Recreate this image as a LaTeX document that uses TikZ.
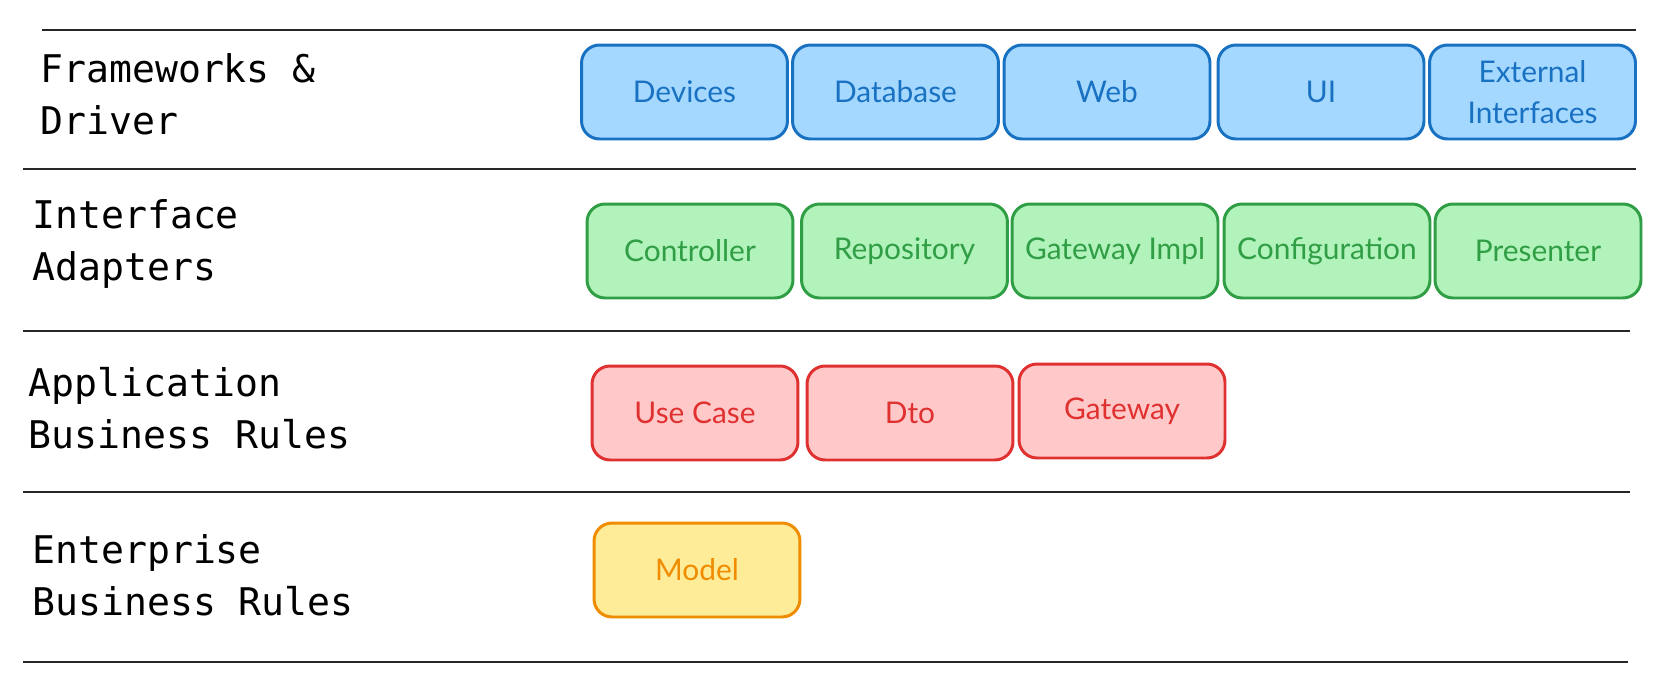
\documentclass[tikz,border=0pt]{standalone}
\usepackage{fontspec}
\setmainfont{Lato}
\setmonofont{DejaVu Sans Mono}
\usetikzlibrary{positioning}
\definecolor{blueline}{HTML}{1971C2}
\definecolor{bluefill}{HTML}{A5D8FF}
\definecolor{greenline}{HTML}{2F9E44}
\definecolor{greenfill}{HTML}{B2F2BB}
\definecolor{redline}{HTML}{E03131}
\definecolor{redfill}{HTML}{FFC9C9}
\definecolor{orangeline}{HTML}{F08C00}
\definecolor{yellowfill}{HTML}{FFEC99}

\tikzset{
  layerbox/.style={draw, rounded corners=0.36cm, line width=1.7pt, minimum width=4.12cm,
    minimum height=1.88cm, inner sep=1pt, align=center, font=\fontsize{17}{23}\selectfont},
  bluebox/.style={layerbox, draw=blueline, fill=bluefill, text=blueline},
  greenbox/.style={layerbox, draw=greenline, fill=greenfill, text=greenline},
  redbox/.style={layerbox, draw=redline, fill=redfill, text=redline},
  yellowbox/.style={layerbox, draw=orangeline, fill=yellowfill, text=orangeline},
  layerlabel/.style={anchor=west, align=left, inner sep=0pt, font=\ttfamily\fontsize{21.7}{29.5}\selectfont},
  divider/.style={line width=1.1pt, black!85}
}

\begin{document}
\begin{tikzpicture}[x=0.02cm, y=-0.02cm]
  \useasboundingbox (0,0) rectangle (1660,687);

  % Dividers
  \draw[divider] (42,29.6) -- (1636,29.6);
  \draw[divider] (23,169.4) -- (1636,169.4);
  \draw[divider] (23,331.4) -- (1630,331.4);
  \draw[divider] (23,492.3) -- (1630,492.3);
  \draw[divider] (23,661.7) -- (1628,661.7);

  % Frameworks & Driver
  \node[layerlabel] (fwlabel) at (40,94) {Frameworks \&\\Driver};
  \node[bluebox] (devices) at (684.5,92) {Devices};
  \node[bluebox] (database) at (895.5,92) {Database};
  \node[bluebox] (web) at (1107,92) {Web};
  \node[bluebox] (ui) at (1321,92) {UI};
  \node[bluebox] (external) at (1532.5,92) {External\\Interfaces};

  % Interface Adapters
  \node[layerlabel] (adlabel) at (32,244) {Interface\\Adapters};
  \node[greenbox] (controller) at (690,251) {Controller};
  \node[greenbox] (repository) at (904.5,251) {Repository};
  \node[greenbox] (gwimpl) at (1115,251) {Gateway Impl};
  \node[greenbox] (config) at (1327,251) {Configuration};
  \node[greenbox] (presenter) at (1538,251) {Presenter};

  % Application Business Rules
  \node[layerlabel] (applabel) at (28.5,408) {Application\\Business Rules};
  \node[redbox] (usecase) at (695,413) {Use Case};
  \node[redbox] (dto) at (910,413) {Dto};
  \node[redbox] (gateway) at (1122,411) {Gateway};

  % Enterprise Business Rules
  \node[layerlabel] (entlabel) at (32,575) {Enterprise\\Business Rules};
  \node[yellowbox] (model) at (697,570) {Model};
\end{tikzpicture}
\end{document}
